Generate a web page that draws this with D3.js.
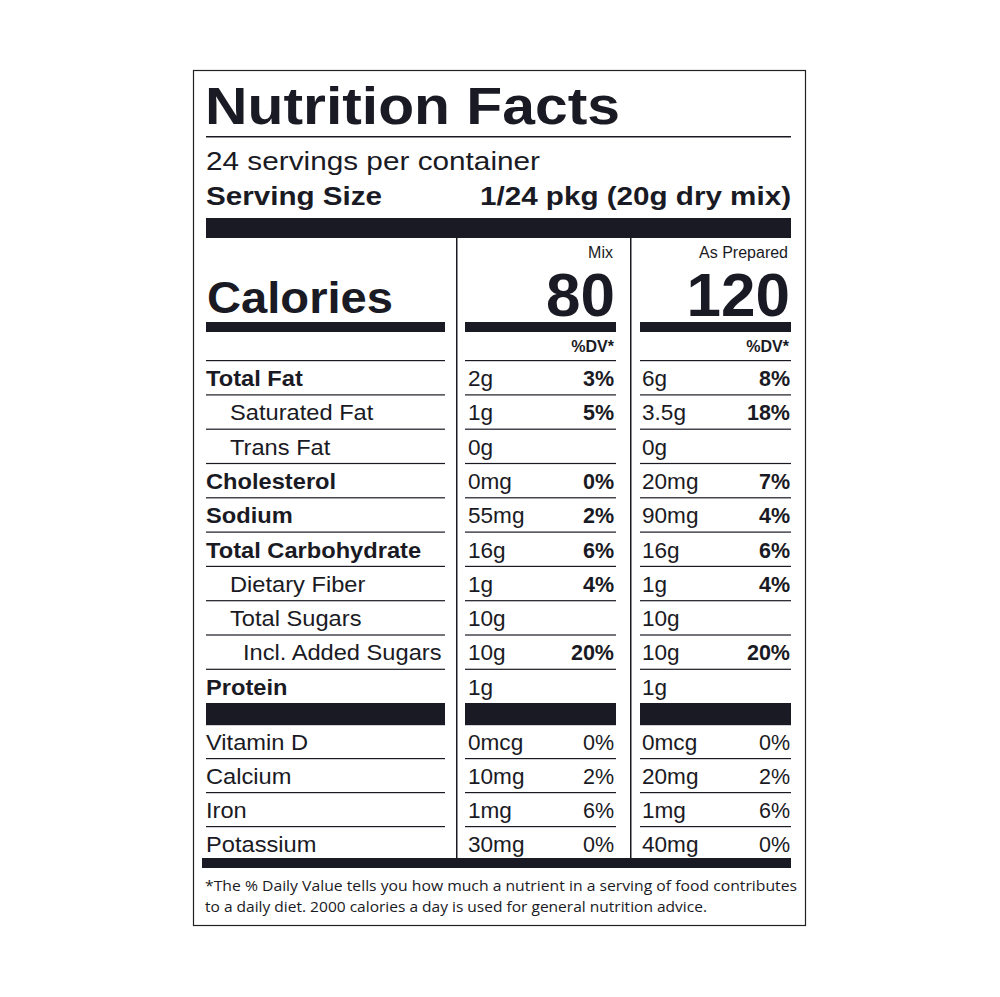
<!DOCTYPE html>
<html>
<head>
<meta charset="UTF-8">
<script src="https://d3js.org/d3.v7.min.js"></script>
<style>body{margin:0;background:#fff}</style>
</head>
<body>
<svg id="canvas"></svg>
<script>
width = 1000;
height = 997;

nutrients = ["Total Fat","Saturated Fat","Trans Fat","Cholesterol","Sodium","Total Carbohydrate","Dietary Fiber","Total Sugars","Incl. Added Sugars","Protein"];
indent = [0,1,1,0,0,0,1,1,2,0];
mixAmt = ["2g","1g","0g","0mg","55mg","16g","1g","10g","10g","1g"];
mixDV = ["3%","5%","","0%","2%","6%","4%","","20%",""];
prepAmt = ["6g","3.5g","0g","20mg","90mg","16g","1g","10g","10g","1g"];
prepDV = ["8%","18%","","7%","4%","6%","4%","","20%",""];

vitamins = ["Vitamin D","Calcium","Iron","Potassium"];
vitMixAmt = ["0mcg","10mg","1mg","30mg"];
vitMixDV = ["0%","2%","6%","0%"];
vitPrepAmt = ["0mcg","20mg","1mg","40mg"];
vitPrepDV = ["0%","2%","6%","0%"];

calories = [80, 120];
calHeaders = ["Mix", "As Prepared"];

ink = "#1a1a24";
font = "'Liberation Sans', Arial, sans-serif";

svg = d3.select("#canvas").attr("width", width).attr("height", height)
  .style("font-family", font).style("fill", ink);

// widen text horizontally by a factor, like the reference's wider face
function stretch(sel, f) {
  sel.each(function() {
    const w = this.getComputedTextLength();
    if (w > 0) d3.select(this).attr("textLength", w * f).attr("lengthAdjust", "spacingAndGlyphs");
  });
  return sel;
}

svg.append("rect").attr("x",193.5).attr("y",70.5).attr("width",612).attr("height",855)
  .attr("fill","none").attr("stroke","#222").attr("stroke-width",1.2);

svg.append("text").attr("x",205).attr("y",124).attr("font-size",51).attr("font-weight","bold")
  .attr("textLength",415).attr("lengthAdjust","spacingAndGlyphs").text("Nutrition Facts");
svg.append("rect").attr("x",206).attr("y",136).attr("width",585).attr("height",1.5).attr("fill",ink);
svg.append("text").attr("x",206).attr("y",170).attr("font-size",25)
  .attr("textLength",334).attr("lengthAdjust","spacingAndGlyphs").text("24 servings per container");
svg.append("text").attr("x",206).attr("y",205).attr("font-size",26).attr("font-weight","bold")
  .attr("textLength",176).attr("lengthAdjust","spacingAndGlyphs").text("Serving Size");
svg.append("text").attr("x",480).attr("y",205).attr("font-size",26).attr("font-weight","bold")
  .attr("textLength",311).attr("lengthAdjust","spacingAndGlyphs").text("1/24 pkg (20g dry mix)");
svg.append("rect").attr("x",206).attr("y",218).attr("width",585).attr("height",20).attr("fill",ink);

// columns
cols = [{x0:206,x1:445},{x0:465,x1:616},{x0:640,x1:791}];
[456,630].forEach(x => svg.append("rect").attr("x",x).attr("y",238).attr("width",1.5).attr("height",622).attr("fill",ink));

svg.append("text").attr("x",207).attr("y",313).attr("font-size",44).attr("font-weight","bold")
  .attr("textLength",186).attr("lengthAdjust","spacingAndGlyphs").text("Calories");
calories.forEach((c,i) => {
  const col = cols[i+1];
  svg.append("text").attr("x",col.x1-3).attr("y",258).attr("font-size",16).attr("text-anchor","end").text(calHeaders[i]);
  svg.append("text").attr("x",col.x1-1).attr("y",316).attr("font-size",62).attr("font-weight","bold").attr("text-anchor","end").text(c);
  svg.append("text").attr("x",col.x1-2).attr("y",352).attr("font-size",16).attr("font-weight","bold").attr("text-anchor","end").text("%DV*");
});
cols.forEach(col => svg.append("rect").attr("x",col.x0).attr("y",322).attr("width",col.x1-col.x0).attr("height",10).attr("fill",ink));

y = d3.scaleLinear().domain([0, nutrients.length]).range([360, 703]);
yv = d3.scaleLinear().domain([0, vitamins.length]).range([724, 860]);

function drawRows(names, ys, mA, mD, pA, pD, bold, ind) {
  names.forEach((n,i) => {
    const top = ys(i), base = top + 26;
    cols.forEach(col => svg.append("rect").attr("x",col.x0).attr("y",top).attr("width",col.x1-col.x0).attr("height",1.2).attr("fill",ink));
    const lv = ind ? ind[i] : 0;
    stretch(svg.append("text").attr("x",206 + [0,24,37][lv]).attr("y",base).attr("font-size",21.5)
      .attr("font-weight", bold && lv === 0 ? "bold" : "normal").text(n), 1.1);
    stretch(svg.append("text").attr("x",468).attr("y",base).attr("font-size",21.5).text(mA[i]), 1.05);
    svg.append("text").attr("x",614).attr("y",base).attr("font-size",21.5).attr("text-anchor","end")
      .attr("font-weight", bold ? "bold" : "normal").text(mD[i]);
    stretch(svg.append("text").attr("x",642).attr("y",base).attr("font-size",21.5).text(pA[i]), 1.05);
    svg.append("text").attr("x",790).attr("y",base).attr("font-size",21.5).attr("text-anchor","end")
      .attr("font-weight", bold ? "bold" : "normal").text(pD[i]);
  });
}
drawRows(nutrients, y, mixAmt, mixDV, prepAmt, prepDV, true, indent);
cols.forEach(col => svg.append("rect").attr("x",col.x0).attr("y",y(nutrients.length)).attr("width",col.x1-col.x0).attr("height",21).attr("fill",ink));
drawRows(vitamins, yv, vitMixAmt, vitMixDV, vitPrepAmt, vitPrepDV, false, null);
svg.append("rect").attr("x",202).attr("y",858).attr("width",589).attr("height",10).attr("fill",ink);

svg.append("text").attr("x",205).attr("y",891).attr("font-size",15).style("font-family","'Open Sans', sans-serif")
  .attr("textLength",592).attr("lengthAdjust","spacingAndGlyphs")
  .text("*The % Daily Value tells you how much a nutrient in a serving of food contributes");
svg.append("text").attr("x",205).attr("y",912).attr("font-size",15).style("font-family","'Open Sans', sans-serif")
  .attr("textLength",502).attr("lengthAdjust","spacingAndGlyphs")
  .text("to a daily diet. 2000 calories a day is used for general nutrition advice.");
</script>
</body>
</html>
